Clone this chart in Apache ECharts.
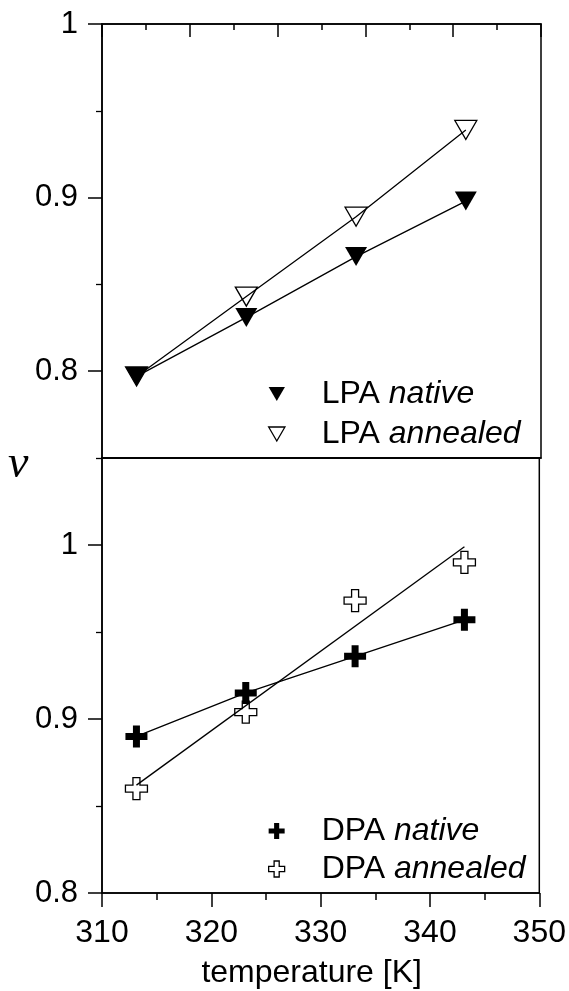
<!DOCTYPE html>
<html>
<head>
<meta charset="utf-8">
<script src="https://cdn.jsdelivr.net/npm/echarts@6/dist/echarts.min.js"></script>
<style>
html,body{margin:0;padding:0;background:#fff;}
#c{width:569px;height:991px;}
</style>
</head>
<body>
<div id="c"></div>
<script>
// ---- data ----
const temps = [313.15, 323.15, 333.15, 343.15];
const lpaNative = [0.797, 0.831, 0.866, 0.898];
const lpaAnnealed = [0.797, 0.843, 0.889, 0.939];
const dpaNative = [0.890, 0.915, 0.936, 0.957];
const dpaAnnealed = [0.860, 0.904, 0.968, 0.990];
const dpaAnnealedFitX = [313.15, 343.15];
const dpaAnnealedFitY = [0.862, 0.999];
const yLabelsTop = [0.8, 0.9, 1.0];
const yMinorTop = [0.85, 0.95];
const yLabelsBottom = [0.8, 0.9, 1.0];
const yMinorBottom = [0.85, 0.95, 1.05];
const seriesNames = ['LPA native', 'LPA annealed', 'DPA native', 'DPA annealed'];

const TRI = 'path://M0,0L10,0L5,8.6Z';
const PLUS = 'path://M7.5,0H14.5V7.5H22V14.5H14.5V22H7.5V14.5H0V7.5H7.5Z';
const FONT = 'Liberation Sans';
const pairs = (xs, ys) => xs.map((x, i) => [x, ys[i]]);

const chart = echarts.init(document.getElementById('c'));
const lbl = v => (v === 1 ? '1' : v.toFixed(1));
const txt = {color: '#000', fontFamily: FONT};

function yMajor(grid, min, max, labels) {
  return {
    type: 'value', gridIndex: grid, min: min, max: max, position: 'left',
    axisLine: {show: true, lineStyle: {color: '#000', width: 1.5}},
    axisTick: {show: true, length: 14, customValues: labels, lineStyle: {color: '#000', width: 1.5}},
    axisLabel: {show: true, customValues: labels, formatter: lbl, fontSize: 31, margin: 24, ...txt},
    splitLine: {show: false}
  };
}
function yMinor(grid, min, max, vals) {
  return {
    type: 'value', gridIndex: grid, min: min, max: max, position: 'left',
    axisLine: {show: false},
    axisTick: {show: true, length: 6, customValues: vals, lineStyle: {color: '#000', width: 1.3}},
    axisLabel: {show: false},
    splitLine: {show: false}
  };
}

const legendText = {
  fontSize: 32, lineHeight: 26, ...txt,
  rich: {i: {fontSize: 32, lineHeight: 26, fontStyle: 'italic', ...txt}}
};
const legendFmt = name => name.replace(/ (\S+)$/, ' {i|$1}');
const hollow = {color: '#fff', borderColor: '#000', borderWidth: 1.3};
const solid = {color: '#000', borderColor: '#000', borderWidth: 0};

chart.setOption({
  backgroundColor: '#fff',
  animation: false,
  grid: [
    {left: 102, top: 24, width: 439, height: 434, show: true, borderColor: '#000', borderWidth: 1.5, containLabel: false},
    {left: 102, top: 458, width: 439, height: 435, show: true, borderColor: '#000', borderWidth: 1.5, containLabel: false}
  ],
  xAxis: [
    {type: 'value', gridIndex: 0, min: 310, max: 350, interval: 10, position: 'bottom',
     axisLine: {show: true, lineStyle: {color: '#000', width: 1.5}}, axisTick: {show: false},
     axisLabel: {show: false}, splitLine: {show: false}},
    {type: 'value', gridIndex: 0, min: 0, max: 10, interval: 2, position: 'top',
     axisLine: {show: true, lineStyle: {color: '#000', width: 1.5}},
     axisTick: {show: true, inside: true, length: 13, lineStyle: {color: '#000', width: 1.5}},
     minorTick: {show: true, splitNumber: 2, length: 6, lineStyle: {color: '#000', width: 1.5}},
     axisLabel: {show: false}, splitLine: {show: false}},
    {type: 'value', gridIndex: 1, min: 310, max: 350, interval: 10, position: 'bottom',
     axisLine: {show: true, lineStyle: {color: '#000', width: 1.5}},
     axisTick: {show: true, length: 14, lineStyle: {color: '#000', width: 1.5}},
     minorTick: {show: true, splitNumber: 2, length: 7, lineStyle: {color: '#000', width: 1.5}},
     axisLabel: {show: true, fontSize: 32, margin: 24, ...txt},
     splitLine: {show: false},
     name: 'temperature [K]', nameLocation: 'middle', nameGap: 64,
     nameTextStyle: {fontSize: 32, padding: [0, 18, 0, 0], ...txt}}
  ],
  yAxis: [
    yMajor(0, 0.75, 1.0, yLabelsTop),
    yMinor(0, 0.75, 1.0, yMinorTop),
    yMajor(1, 0.8, 1.05, yLabelsBottom),
    yMinor(1, 0.8, 1.05, yMinorBottom)
  ],
  legend: [
    {orient: 'vertical', left: 268, top: 378, itemWidth: 80, itemHeight: 14, itemGap: 8,
     padding: 0, selectedMode: false, textStyle: legendText, formatter: legendFmt,
     data: [{name: seriesNames[0], icon: TRI, itemStyle: solid},
            {name: seriesNames[1], icon: TRI, itemStyle: hollow}]},
    {orient: 'vertical', left: 268, top: 815, itemWidth: 80, itemHeight: 16, itemGap: 6,
     padding: 0, selectedMode: false, textStyle: legendText, formatter: legendFmt,
     data: [{name: seriesNames[2], icon: PLUS, itemStyle: solid},
            {name: seriesNames[3], icon: PLUS, itemStyle: hollow}]}
  ],
  graphic: [
    {type: 'text', left: 8, top: 442,
     style: {text: 'ν', font: 'italic 46px "Liberation Serif"', fill: '#000'}}
  ],
  series: [
    {name: seriesNames[0], type: 'line', xAxisIndex: 0, yAxisIndex: 0,
     data: pairs(temps, lpaNative), symbol: TRI, symbolSize: [22, 19],
     lineStyle: {color: '#000', width: 1.3}, itemStyle: solid, z: 3},
    {name: seriesNames[1], type: 'line', xAxisIndex: 0, yAxisIndex: 0,
     data: pairs(temps, lpaAnnealed), symbol: TRI, symbolSize: [22, 19],
     lineStyle: {color: '#000', width: 1.3}, itemStyle: {color: 'rgba(255,255,255,0)', borderColor: '#000', borderWidth: 1.3}, z: 4},
    {name: seriesNames[2], type: 'line', xAxisIndex: 2, yAxisIndex: 2,
     data: pairs(temps, dpaNative), symbol: PLUS, symbolSize: 22,
     lineStyle: {color: '#000', width: 1.3}, itemStyle: solid, z: 3},
    {name: seriesNames[3], type: 'line', xAxisIndex: 2, yAxisIndex: 2,
     data: pairs(temps, dpaAnnealed), symbol: PLUS, symbolSize: 22,
     lineStyle: {width: 0, opacity: 0}, itemStyle: {color: 'rgba(255,255,255,0)', borderColor: '#000', borderWidth: 1.3}, z: 4},
    {name: 'fit', type: 'line', xAxisIndex: 2, yAxisIndex: 2,
     data: pairs(dpaAnnealedFitX, dpaAnnealedFitY), symbol: 'none',
     lineStyle: {color: '#000', width: 1.3}, silent: true, z: 2}
  ]
});
</script>
</body>
</html>
